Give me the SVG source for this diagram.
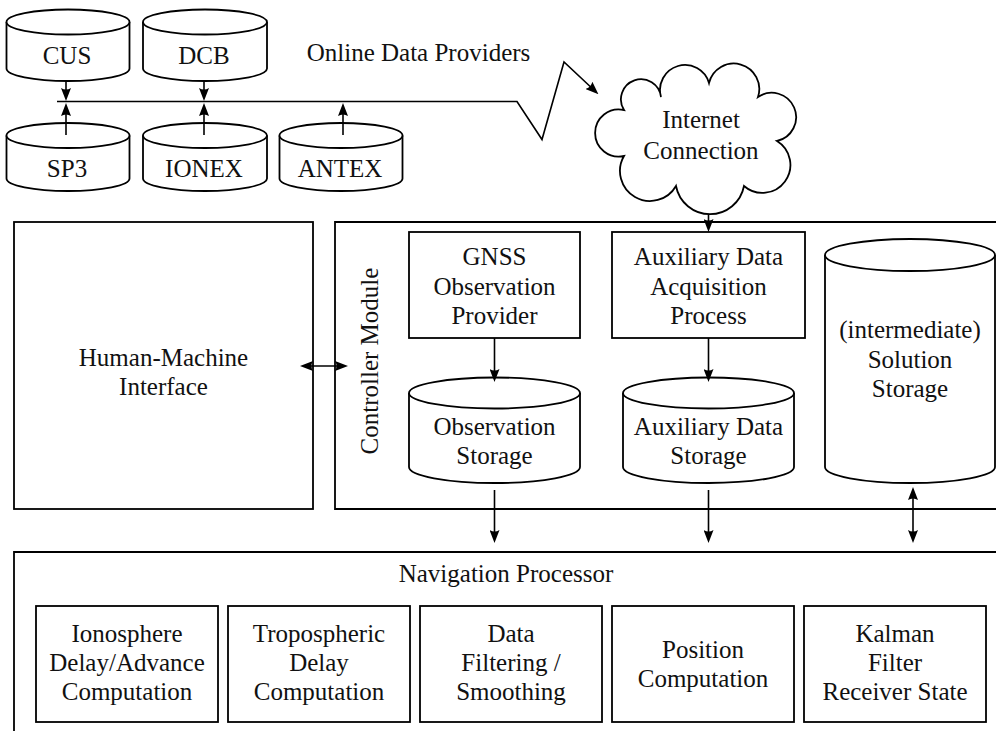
<svg xmlns="http://www.w3.org/2000/svg" width="996" height="731" viewBox="0 0 996 731">
<style>
  .box{fill:#fff;stroke:#000;stroke-width:1.8}
  .frame{fill:none;stroke:#000;stroke-width:1.8}
  .ln{fill:none;stroke:#000;stroke-width:1.6}
  .arr{marker-end:url(#ah)}
  .dbl{marker-start:url(#ah);marker-end:url(#ah)}
  text{font-size:25px;fill:#111;text-anchor:middle}
</style>
<defs>
  <marker id="ah" viewBox="0 0 13 10" refX="9" refY="5" markerWidth="13" markerHeight="10" markerUnits="userSpaceOnUse" orient="auto-start-reverse">
    <path d="M0,0 L13,5 L0,10 Q3,5 0,0 Z" fill="#000"/>
  </marker>
</defs>
<g font-family="'Liberation Serif', 'Times New Roman', 'DejaVu Serif', serif">

<!-- Data provider cylinders -->
<g id="cus">
  <path class="box" d="M6.5,22 V68.5 A61.5,12.5 0 0 0 129.5,68.5 V22"/>
  <ellipse class="box" cx="68" cy="22" rx="61.5" ry="12.5"/>
  <text x="67" y="64">CUS</text>
</g>
<g id="dcb">
  <path class="box" d="M143,22 V68.5 A62,12.5 0 0 0 267,68.5 V22"/>
  <ellipse class="box" cx="205" cy="22" rx="62" ry="12.5"/>
  <text x="204" y="64">DCB</text>
</g>
<g id="sp3">
  <path class="box" d="M6.5,135.5 V178.5 A61.5,12.5 0 0 0 129.5,178.5 V135.5"/>
  <ellipse class="box" cx="68" cy="135.5" rx="61.5" ry="12.5"/>
  <text x="67" y="177">SP3</text>
</g>
<g id="ionex">
  <path class="box" d="M143,135.5 V178.5 A62,12.5 0 0 0 267,178.5 V135.5"/>
  <ellipse class="box" cx="205" cy="135.5" rx="62" ry="12.5"/>
  <text x="204" y="177">IONEX</text>
</g>
<g id="antex">
  <path class="box" d="M279.5,135.5 V178.5 A61.5,12.5 0 0 0 402.5,178.5 V135.5"/>
  <ellipse class="box" cx="341" cy="135.5" rx="61.5" ry="12.5"/>
  <text x="340" y="177">ANTEX</text>
</g>

<g id="online-label">
  <text x="418.5" y="61">Online Data Providers</text>
</g>

<!-- Internet cloud -->
<g id="internet">
  <path class="box" d="M661,97 A25,25 0 1 1 709,83 A25.5,25.5 0 1 1 758,97 A24.4,24.4 0 1 1 777,141 A28,28 0 1 1 744,186 A34.6,34.6 0 0 1 676,186 A30,30 0 1 1 624,156 A23.6,23.6 0 1 1 624,110 A20.1,20.1 0 1 1 661,97 Z"/>
  <text x="701" y="128">Internet</text>
  <text x="701" y="159">Connection</text>
</g>

<!-- Human-Machine Interface -->
<g id="hmi">
  <rect class="box" x="14" y="222" width="299" height="287"/>
  <text x="163.5" y="366">Human-Machine</text>
  <text x="163.5" y="395">Interface</text>
</g>

<!-- Controller Module -->
<g id="controller">
  <path class="frame" d="M996,222 H335 V509 H996"/>
  <text transform="translate(378,361) rotate(-90)">Controller Module</text>
</g>
<g id="gnss-provider">
  <rect class="box" x="409" y="232" width="171" height="106"/>
  <text x="494.5" y="265">GNSS</text>
  <text x="494.5" y="295">Observation</text>
  <text x="494.5" y="324">Provider</text>
</g>
<g id="aux-process">
  <rect class="box" x="612" y="232" width="193" height="106"/>
  <text x="708.5" y="265">Auxiliary Data</text>
  <text x="708.5" y="295">Acquisition</text>
  <text x="708.5" y="324">Process</text>
</g>
<g id="obs-storage">
  <path class="box" d="M409,393 V467 A85.5,16 0 0 0 580,467 V393"/>
  <ellipse class="box" cx="494.5" cy="393" rx="85.5" ry="15.5"/>
  <text x="494.5" y="435">Observation</text>
  <text x="494.5" y="464">Storage</text>
</g>
<g id="aux-storage">
  <path class="box" d="M623,393 V467 A85.5,16 0 0 0 794,467 V393"/>
  <ellipse class="box" cx="708.5" cy="393" rx="85.5" ry="15.5"/>
  <text x="708.5" y="435">Auxiliary Data</text>
  <text x="708.5" y="464">Storage</text>
</g>
<g id="solution-storage">
  <path class="box" d="M825,255 V467 A85,16 0 0 0 995,467 V255"/>
  <ellipse class="box" cx="910" cy="255" rx="85" ry="16"/>
  <text x="910" y="338">(intermediate)</text>
  <text x="910" y="368">Solution</text>
  <text x="910" y="397">Storage</text>
</g>

<!-- Navigation Processor -->
<g id="nav-processor">
  <path class="frame" d="M996,552 H14 V731"/>
  <text x="506" y="582">Navigation Processor</text>
</g>
<g id="ionosphere">
  <rect class="box" x="36" y="606" width="182" height="116"/>
  <text x="127" y="642">Ionosphere</text>
  <text x="127" y="671">Delay/Advance</text>
  <text x="127" y="700">Computation</text>
</g>
<g id="troposphere">
  <rect class="box" x="228" y="606" width="182" height="116"/>
  <text x="319" y="642">Tropospheric</text>
  <text x="319" y="671">Delay</text>
  <text x="319" y="700">Computation</text>
</g>
<g id="filtering">
  <rect class="box" x="420" y="606" width="182" height="116"/>
  <text x="511" y="642">Data</text>
  <text x="511" y="671">Filtering /</text>
  <text x="511" y="700">Smoothing</text>
</g>
<g id="position">
  <rect class="box" x="612" y="606" width="182" height="116"/>
  <text x="703" y="658">Position</text>
  <text x="703" y="687">Computation</text>
</g>
<g id="kalman">
  <rect class="box" x="804" y="606" width="182" height="116"/>
  <text x="895" y="642">Kalman</text>
  <text x="895" y="671">Filter</text>
  <text x="895" y="700">Receiver State</text>
</g>

<!-- Connectors -->
<g id="connectors">
  <path class="ln" d="M57,101.5 H517 L542,139.5 L564,62 L595.5,91.5" marker-end="url(#ah)"/>
  <line class="ln arr" x1="66" y1="81" x2="66" y2="97"/>
  <line class="ln arr" x1="204" y1="81" x2="204" y2="97"/>
  <line class="ln arr" x1="66" y1="135" x2="66" y2="107"/>
  <line class="ln arr" x1="204" y1="135" x2="204" y2="107"/>
  <line class="ln arr" x1="343" y1="135" x2="343" y2="107"/>
  <line class="ln arr" x1="708.5" y1="214" x2="708.5" y2="228"/>
  <line class="ln arr" x1="494.5" y1="338" x2="494.5" y2="378"/>
  <line class="ln arr" x1="708.5" y1="338" x2="708.5" y2="378"/>
  <line class="ln dbl" x1="304" y1="366" x2="344" y2="366"/>
  <line class="ln arr" x1="494.5" y1="490" x2="494.5" y2="539"/>
  <line class="ln arr" x1="708.5" y1="490" x2="708.5" y2="539"/>
  <line class="ln dbl" x1="913" y1="491" x2="913" y2="539"/>
</g>
</g>
</svg>
